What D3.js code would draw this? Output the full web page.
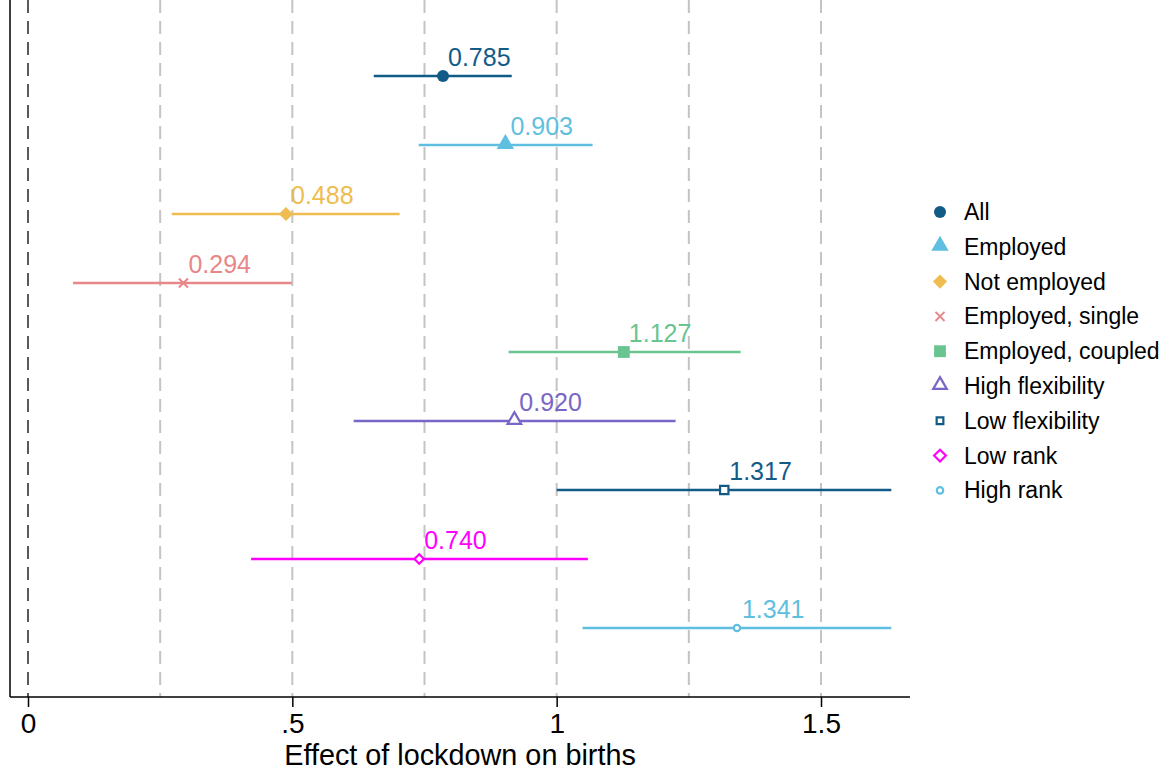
<!DOCTYPE html>
<html lang="en">
<head>
<meta charset="UTF-8">
<title>Effect of lockdown on births</title>
<script src="https://d3js.org/d3.v7.min.js"></script>
<style>
  body { margin: 0; background: #fff; }
  svg { font-family: Arial, "Liberation Sans", sans-serif; }
</style>
</head>
<body>
<svg id="chart" width="1165" height="772"></svg>
<script>
// data
const groups = ["All", "Employed", "Not employed", "Employed, single", "Employed, coupled",
                "High flexibility", "Low flexibility", "Low rank", "High rank"];
const estimates = [0.785, 0.903, 0.488, 0.294, 1.127, 0.920, 1.317, 0.740, 1.341];
const lower = [0.654, 0.739, 0.272, 0.085, 0.909, 0.616, 1.000, 0.422, 1.049];
const upper = [0.915, 1.068, 0.703, 0.499, 1.348, 1.225, 1.633, 1.059, 1.633];
const xTicks = [0, 0.5, 1, 1.5];
const xTickLabels = ["0", ".5", "1", "1.5"];
const gridValues = [0.25, 0.5, 0.75, 1, 1.25, 1.5];

// styling
const colors = ["#135b87", "#5fbfe0", "#efbd4f", "#e8878a", "#6ac48f",
                "#7a66c6", "#135b87", "#ff00ff", "#5fbfe0"];
const shapes = ["circle", "triangle", "diamond", "x", "square",
                "triangleO", "squareO", "diamondO", "circleO"];

const svg = d3.select("#chart");
const plotLeft = 10, plotRight = 910, plotTop = 0, plotBottom = 697;

const x = d3.scaleLinear().domain([0, 1.5]).range([28, 821]);
const y = d3.scalePoint().domain(groups).range([76, 628]);

// gridlines
svg.append("g").selectAll("line")
  .data(gridValues)
  .enter().append("line")
  .attr("x1", d => x(d)).attr("x2", d => x(d))
  .attr("y1", plotTop).attr("y2", plotBottom)
  .attr("stroke", "#c4c4c4")
  .attr("stroke-width", 2)
  .attr("stroke-dasharray", "13,8");

// zero reference line
svg.append("line")
  .attr("x1", x(0)).attr("x2", x(0))
  .attr("y1", plotTop).attr("y2", plotBottom)
  .attr("stroke", "#5a5a5a")
  .attr("stroke-width", 2)
  .attr("stroke-dasharray", "13,8");

// axes frame
svg.append("line")
  .attr("x1", plotLeft).attr("x2", plotLeft).attr("y1", plotTop).attr("y2", plotBottom)
  .attr("stroke", "#000").attr("stroke-width", 1.5);

const xAxis = d3.axisBottom(x)
  .tickValues(xTicks)
  .tickFormat((d, i) => xTickLabels[i])
  .tickSize(10)
  .tickPadding(6);

const ax = svg.append("g")
  .attr("transform", `translate(0,${plotBottom})`)
  .call(xAxis);
ax.select(".domain").remove();
ax.selectAll(".tick line").attr("stroke", "#000").attr("stroke-width", 1.5);
ax.selectAll(".tick text").attr("font-size", 28).attr("fill", "#000")
  .attr("font-family", "Arial, 'Liberation Sans', sans-serif");
ax.append("line")
  .attr("x1", plotLeft).attr("x2", plotRight).attr("y1", 0).attr("y2", 0)
  .attr("stroke", "#000").attr("stroke-width", 1.5);

svg.append("text")
  .attr("x", (plotLeft + plotRight) / 2)
  .attr("y", 765)
  .attr("text-anchor", "middle")
  .attr("font-size", 28.8)
  .text("Effect of lockdown on births");

function drawMarker(g, shape, color, inLegend) {
  const hollow = shape.endsWith("O");
  const base = hollow ? shape.slice(0, -1) : shape;
  let el;
  if (base === "circle") {
    el = g.append("circle").attr("r", hollow ? 3.2 : 6);
  } else if (base === "triangle") {
    el = g.append("path").attr("d", d3.symbol(d3.symbolTriangle, hollow ? 80 : 130)())
      .attr("transform", "translate(0,-1)");
  } else if (base === "diamond") {
    const size = hollow ? (inLegend ? 70 : 45) : 100;
    el = g.append("path").attr("d", d3.symbol(d3.symbolSquare, size)())
      .attr("transform", "rotate(45)");
  } else if (base === "square") {
    el = g.append("path").attr("d", d3.symbol(d3.symbolSquare, hollow ? (inLegend ? 45 : 70) : 140)());
  } else {
    el = g.append("path").attr("d", d3.symbol(d3.symbolTimes, 55)())
      .attr("fill", "none").attr("stroke", color).attr("stroke-width", 2);
    return;
  }
  if (hollow) {
    el.attr("fill", "#fff").attr("stroke", color).attr("stroke-width", 2.2);
  } else {
    el.attr("fill", color);
  }
}

// confidence intervals, points and labels
const rows = svg.append("g").selectAll("g")
  .data(groups)
  .enter().append("g");

rows.append("line")
  .attr("x1", (d, i) => x(lower[i]))
  .attr("x2", (d, i) => x(upper[i]))
  .attr("y1", d => y(d)).attr("y2", d => y(d))
  .attr("stroke", (d, i) => colors[i])
  .attr("stroke-width", 2.5);

rows.each(function(d, i) {
  const g = d3.select(this).append("g")
    .attr("transform", `translate(${x(estimates[i])},${y(d)})`);
  drawMarker(g, shapes[i], colors[i], false);
});

rows.append("text")
  .attr("x", (d, i) => x(estimates[i]) + 5)
  .attr("y", d => y(d) - 10)
  .attr("font-size", 25)
  .attr("fill", (d, i) => colors[i])
  .text((d, i) => estimates[i].toFixed(3));

// legend
const legend = svg.append("g").attr("transform", "translate(940,212)");
groups.forEach((name, i) => {
  const row = legend.append("g").attr("transform", `translate(0,${i * 34.8})`);
  drawMarker(row, shapes[i], colors[i], true);
  row.append("text")
    .attr("x", 24)
    .attr("y", 8)
    .attr("font-size", 23)
    .attr("fill", "#000")
    .text(name);
});
</script>
</body>
</html>
